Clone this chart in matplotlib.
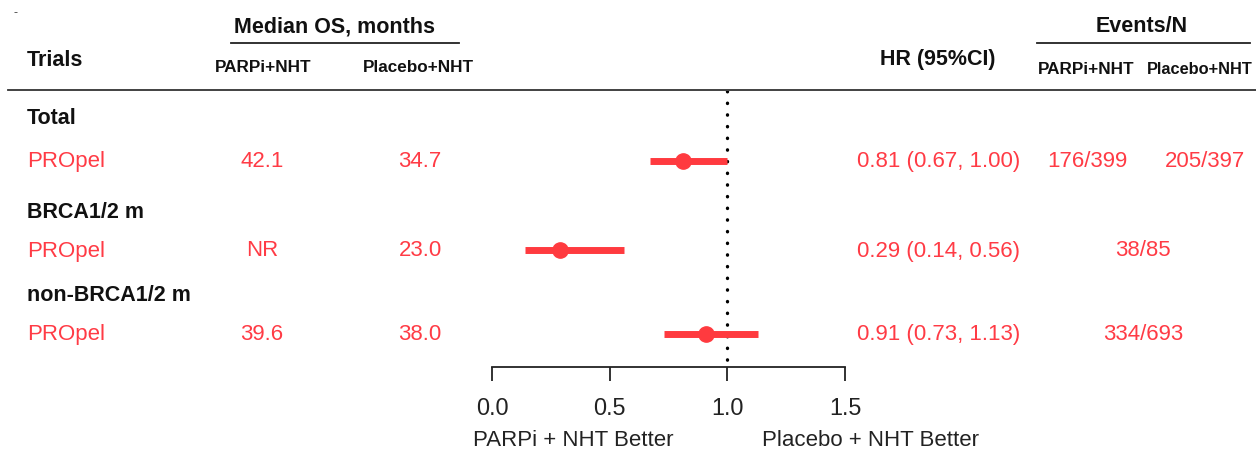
import matplotlib
matplotlib.use("Agg")
import matplotlib.pyplot as plt

plt.rcParams['font.family'] = ['Liberation Sans', 'DejaVu Sans']

# ---- data ----
groups = ["Total", "BRCA1/2 m", "non-BRCA1/2 m"]
trials = ["PROpel", "PROpel", "PROpel"]
median_parpi = ["42.1", "NR", "39.6"]
median_placebo = ["34.7", "23.0", "38.0"]
hr = [0.81, 0.29, 0.91]
ci_low = [0.67, 0.14, 0.73]
ci_high = [1.00, 0.56, 1.13]
events_parpi = ["176/399", "38/85", "334/693"]
events_placebo = ["205/397", None, None]
xticks = [0.0, 0.5, 1.0, 1.5]
xtick_labels = ["0.0", "0.5", "1.0", "1.5"]

# ---- layout (pixels) ----
W, H = 1256, 452
RED = '#ff3b45'
MARK = '#ff3a3f'
BLACK = '#111111'
group_px = [118, 213, 296]
row_px = [162, 251, 335]

fig = plt.figure(figsize=(W / 100, H / 100), dpi=100)

# overlay axes in pixel coordinates for table text and rules
ov = fig.add_axes([0, 0, 1, 1])
ov.set_xlim(0, W)
ov.set_ylim(H, 0)
ov.axis('off')

def t(x, y, s, ha='left', size=16, weight='normal', color=BLACK, **kw):
    ov.text(x, y, s, ha=ha, va='center', fontsize=size, fontweight=weight,
            color=color, **kw)

HS = 15.5
SS = 12.3
BS = 16
t(13, 13, "-", size=9, color='#444444')
t(27, 61, "Trials", size=HS, weight='bold')
t(334, 27, "Median OS, months", ha='center', size=HS, weight='bold')
ov.plot([231, 459], [44, 44], color='#222222', lw=1.3)
t(263, 67, "PARPi+NHT", ha='center', size=SS, weight='bold')
t(418, 67, "Placebo+NHT", ha='center', size=SS, weight='bold')
t(938, 60, "HR (95%CI)", ha='center', size=HS, weight='bold')
t(1142, 27, "Events/N", ha='center', size=HS, weight='bold')
ov.plot([1037, 1250], [44, 44], color='#222222', lw=1.3)
t(1086, 69, "PARPi+NHT", ha='center', size=SS, weight='bold')
t(1147, 69, "Placebo+NHT", ha='left', size=11.8, weight='bold')
ov.plot([8, W], [91, 91], color='#333333', lw=1.3)

for i in range(len(groups)):
    t(27, group_px[i], groups[i], size=HS, weight='bold')
    y = row_px[i]
    t(27, y, trials[i], size=BS, color=RED)
    t(262, y, median_parpi[i], ha='center', size=BS, color=RED)
    t(420, y, median_placebo[i], ha='center', size=BS, color=RED)
    t(857, y, f"{hr[i]:.2f} ({ci_low[i]:.2f}, {ci_high[i]:.2f})", size=BS, color=RED)
    if events_placebo[i] is None:
        t(1143, y, events_parpi[i], ha='center', size=BS, color=RED)
    else:
        t(1087, y, events_parpi[i], ha='center', size=BS, color=RED)
        t(1205, y, events_placebo[i], ha='center', size=BS, color=RED)

t(473, 441, "PARPi + NHT Better", size=BS, color='#222222')
t(762, 441, "Placebo + NHT Better", size=BS, color='#222222')

# forest axes
x0, x1, ytop, ybot = 492, 845, 92, 368
ax = fig.add_axes([x0 / W, 1 - ybot / H, (x1 - x0) / W, (ybot - ytop) / H])
ax.patch.set_alpha(0)
ax.set_xlim(0, 1.5)
ax.set_ylim(ybot, ytop)
for s in ['top', 'left', 'right']:
    ax.spines[s].set_visible(False)
ax.spines['bottom'].set_color('#222222')
ax.spines['bottom'].set_linewidth(1.3)
ax.set_yticks([])
ax.set_xticks(xticks)
ax.set_xticklabels(xtick_labels, fontsize=16.8, color='#222222')
ax.tick_params(axis='x', length=10, width=1.3, color='#222222', pad=11)

ax.plot([1, 1], [ytop, ybot], color='black', lw=2.4,
        linestyle=(0, (0.1, 3.4)), dash_capstyle='round', zorder=1)
for i in range(len(hr)):
    ax.plot([ci_low[i], ci_high[i]], [row_px[i], row_px[i]], color=MARK,
            lw=5, solid_capstyle='butt', zorder=2)
    ax.plot([hr[i]], [row_px[i]], 'o', color=MARK, ms=11, zorder=3)

fig.savefig("out.png", dpi=100)
